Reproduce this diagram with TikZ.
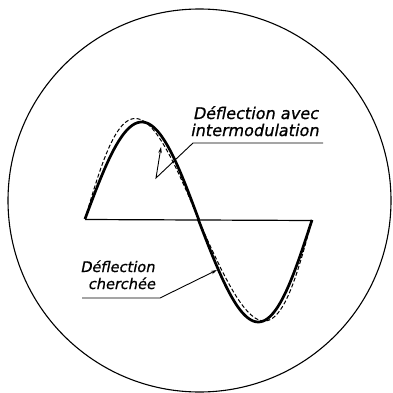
\documentclass[tikz,border=0pt]{standalone}
\usepackage{fontspec}
\setmainfont{DejaVu Sans}
\newfontfamily\labfont{DejaVu Sans}[FakeSlant=0.2, FakeBold=0.8]
\usetikzlibrary{arrows.meta}
\begin{document}
\begin{tikzpicture}[x=1pt,y=-1pt,
  lab/.style={font=\fontsize{16.1}{18}\labfont, inner sep=0pt, anchor=base},
  labs/.style={font=\fontsize{14.6}{17}\labfont, inner sep=0pt, anchor=base},
  leader/.style={line width=0.9pt},
  tip/.style={-{Stealth[length=6pt,width=3.5pt]}},
  sig/.style={line width=2.7pt, line join=round},
  dist/.style={line width=1pt, dash pattern=on 4pt off 2.2pt}]
\useasboundingbox (0,0) rectangle (392,393);
\node[draw, circle, line width=1.1pt, minimum size=383pt, inner sep=0pt] (screen) at (199.5,200.5) {};
% axis
\coordinate (a0) at (85,219.5);
\coordinate (a1) at (312,220.5);
\draw[line width=1.2pt] (a0) -- (a1);
% wanted deflection (solid)
\draw[sig] plot[domain=0:180, samples=60, variable=\t] ({85+0.630556*\t}, {219-97*sin(\t)})
  -- plot[domain=180:360, samples=60, variable=\t] ({85+0.630556*\t-3*sin(\t)}, {220-102*sin(\t)});
% deflection with intermodulation (dashed)
\draw[dist] plot[domain=0:180, samples=60, variable=\t] ({85+0.630556*\t-6.5*sin(\t)}, {219-100.5*sin(\t)})
  -- plot[domain=180:360, samples=60, variable=\t] ({85+0.630556*\t-9*sin(\t)}, {220-101*sin(\t)});
% labels
\node[lab] (la1) at (255.5,119) {Déflection avec};
\node[lab] (la2) at (254.5,136) {intermodulation};
\node[labs] (lb1) at (117.5,272) {Déflection};
\node[labs] (lb2) at (121.5,289) {cherchée};
% leaders
\coordinate (ua0) at (323,143);
\coordinate (ua1) at (193,143);
\coordinate (va) at (156,178);
\coordinate (ta) at (161,147);
\draw[leader, tip] (ua0) -- (ua1) -- (va) -- (ta);
\coordinate (ub0) at (82,298);
\coordinate (ub1) at (160,298);
\coordinate (tb) at (217,270);
\draw[leader, tip] (ub0) -- (ub1) -- (tb);
\end{tikzpicture}
\end{document}
